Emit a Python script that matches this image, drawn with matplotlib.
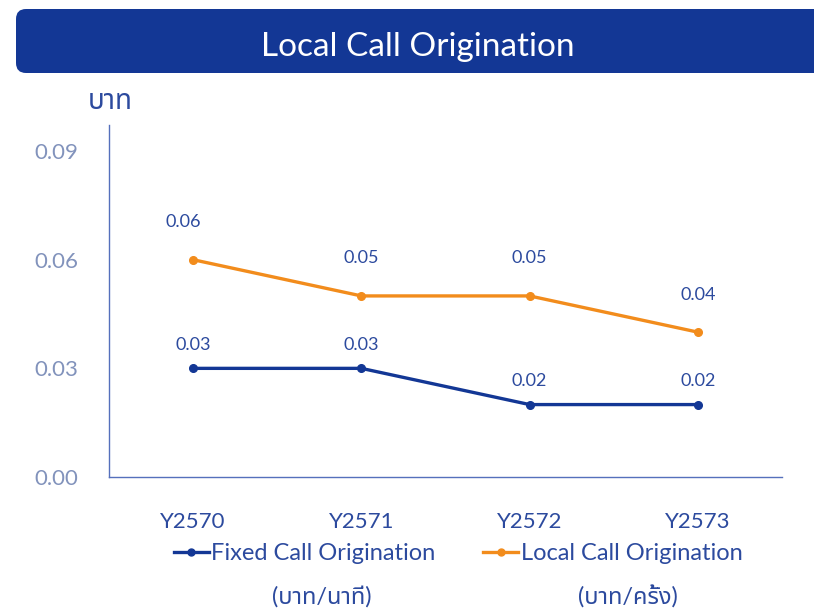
import matplotlib
matplotlib.use("Agg")
import matplotlib.pyplot as plt
from matplotlib.patches import FancyBboxPatch
from matplotlib.lines import Line2D

# --- data ---
years = ["Y2570", "Y2571", "Y2572", "Y2573"]
fixed_call = [0.03, 0.03, 0.02, 0.02]
local_call = [0.06, 0.05, 0.05, 0.04]
series_names = ["Fixed Call Origination", "Local Call Origination"]
series_units = ["(บาท/นาที)", "(บาท/ครั้ง)"]
yticks = [0.00, 0.03, 0.06, 0.09]
title = "Local Call Origination"
ylabel = "บาท"

# --- style ---
FONTS = ["Lato", "Noto Sans Thai", "Loma", "Garuda", "Tlwg Typo", "DejaVu Sans"]
plt.rcParams["font.family"] = FONTS
BLUE = "#133795"
ORANGE = "#F28C1C"
LABEL = "#2C4A9E"
TICK = "#8293BC"
SPINE = "#5570BC"

fig = plt.figure(figsize=(8.14, 6.15), dpi=100)
ax = fig.add_axes([109 / 814, (615 - 477) / 615, 673 / 814, 352 / 615])

x = list(range(len(years)))
ax.plot(x, fixed_call, color=BLUE, lw=2.4, marker="o", ms=5.5)
ax.plot(x, local_call, color=ORANGE, lw=2.4, marker="o", ms=5.5)

for i, v in enumerate(fixed_call):
    ax.annotate(f"{v:.2f}", (i, v), xytext=(0, 17), textcoords="offset points",
                ha="center", va="center", fontsize=13, color=LABEL)
for i, v in enumerate(local_call):
    # first label sits a little left of its point in the original
    dx = -7 if i == 0 else 0
    ax.annotate(f"{v:.2f}", (i, v), xytext=(dx, 27), textcoords="offset points",
                ha="center", va="center", fontsize=13, color=LABEL)

ax.set_xlim(-0.5, 3.5)
ax.set_ylim(0, 0.0972)
ax.set_xticks(x)
ax.set_xticklabels(years, fontsize=16, color=LABEL)
ax.set_yticks(yticks)
ax.set_yticklabels([f"{t:.2f}" for t in yticks], fontsize=16, color=TICK)
ax.tick_params(length=0)
ax.tick_params(axis="x", pad=25)
ax.tick_params(axis="y", pad=22)
for s in ["top", "right"]:
    ax.spines[s].set_visible(False)
for s in ["left", "bottom"]:
    ax.spines[s].set_color(SPINE)
    ax.spines[s].set_linewidth(1.0)

fig.text(110 / 814, 1 - 101 / 615, ylabel, ha="center", va="center", fontsize=20, color=LABEL)

# legend
handles = [Line2D([], [], color=BLUE, lw=2.4, marker="o", ms=5),
           Line2D([], [], color=ORANGE, lw=2.4, marker="o", ms=5)]
leg = fig.legend(handles, series_names, loc="center", bbox_to_anchor=(458 / 814, 1 - 554 / 615),
                 ncol=2, frameon=False, fontsize=17, handlelength=1.5, handletextpad=0.1,
                 columnspacing=2.0, labelcolor=LABEL)
fig.text(322 / 814, 1 - 597 / 615, series_units[0], ha="center", va="center", fontsize=17, color=LABEL)
fig.text(628 / 814, 1 - 597 / 615, series_units[1], ha="center", va="center", fontsize=17, color=LABEL)

# title banner
banner = FancyBboxPatch((16, 615 - 73), 830, 64, boxstyle="round,pad=0,rounding_size=10",
                        transform=None, facecolor=BLUE, edgecolor="none")
fig.add_artist(banner)
fig.text(418 / 814, 1 - 47 / 615, title, ha="center", va="center", fontsize=24, color="white")

fig.savefig("out.png", dpi=100)
